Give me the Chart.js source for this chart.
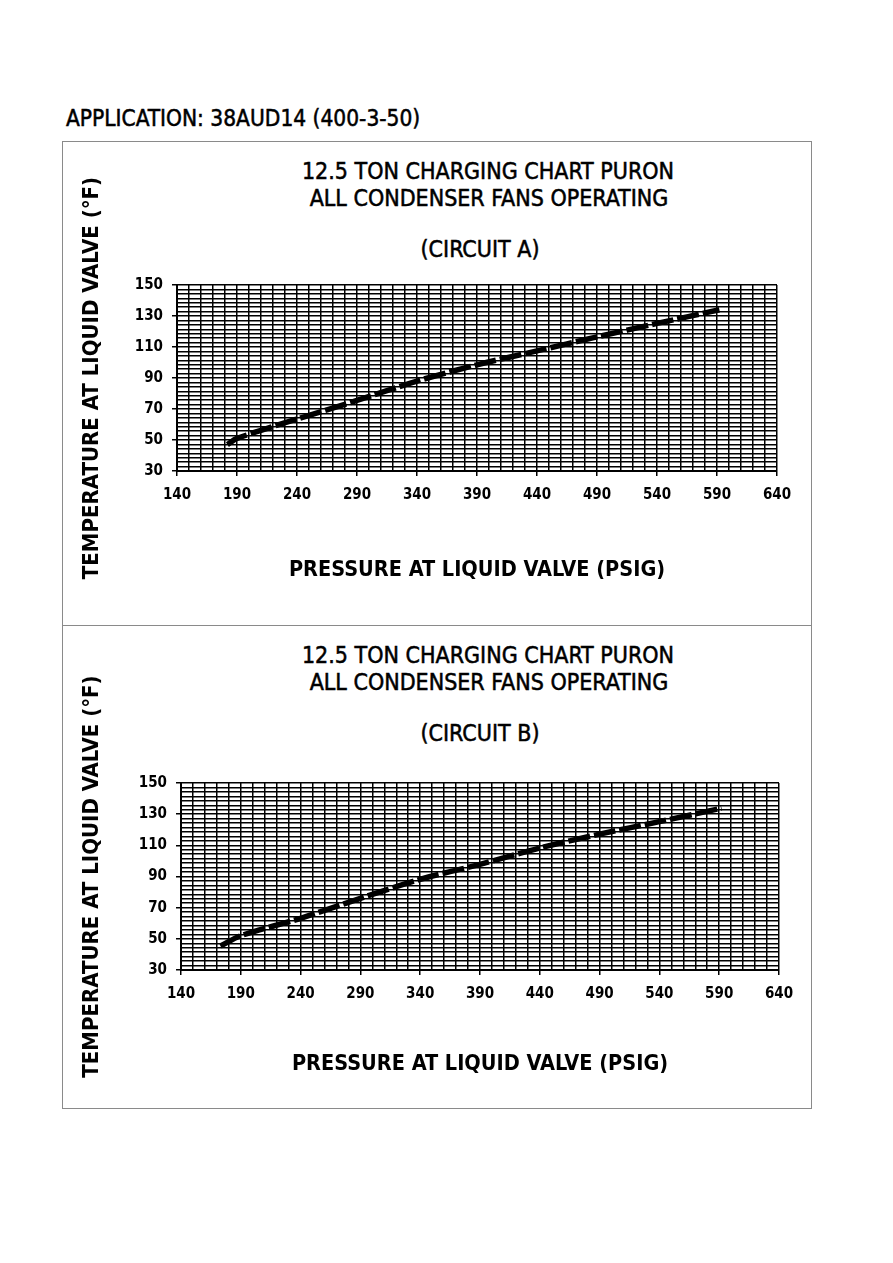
<!DOCTYPE html>
<html>
<head>
<meta charset="utf-8">
<script src="https://cdn.jsdelivr.net/npm/chart.js@4.4.1/dist/chart.umd.min.js"></script>
<style>
  body { margin: 0; background: #fff; width: 893px; height: 1263px; position: relative; overflow: hidden; }
  .txt { position: absolute; font-family: "DejaVu Sans Condensed", "DejaVu Sans", sans-serif; color: #000; white-space: nowrap; line-height: 1; -webkit-text-stroke: 0.5px #000; }
  .ctr { width: 500px; text-align: center; }
  .box { position: absolute; left: 62px; width: 748px; border: 1px solid #8a8a8a; }
  canvas { position: absolute; }
</style>
</head>
<body>
<div class="txt" id="app" style="left:66px; top:107px; font-size:22.5px;">APPLICATION: 38AUD14 (400-3-50)</div>

<div class="box" style="top:141px; height:483px;"></div>
<div class="box" style="top:625px; height:482px;"></div>

<div class="txt ctr" style="left:238px; top:160px; font-size:23px;">12.5 TON CHARGING CHART PURON</div>
<div class="txt ctr" style="left:239px; top:187px; font-size:23px;">ALL CONDENSER FANS OPERATING</div>
<div class="txt ctr" style="left:230px; top:238px; font-size:23px;">(CIRCUIT A)</div>

<div class="txt ctr" style="left:238px; top:644px; font-size:23px;">12.5 TON CHARGING CHART PURON</div>
<div class="txt ctr" style="left:239px; top:671px; font-size:23px;">ALL CONDENSER FANS OPERATING</div>
<div class="txt ctr" style="left:230px; top:722px; font-size:23px;">(CIRCUIT B)</div>

<canvas id="chartA" width="749" height="484" style="left:62px; top:141px;"></canvas>
<canvas id="chartB" width="749" height="483" style="left:62px; top:625px;"></canvas>

<script>
// axes
const xLabels = [140, 190, 240, 290, 340, 390, 440, 490, 540, 590, 640];
const yLabels = [30, 50, 70, 90, 110, 130, 150];

// circuit A  (pression psig / température °F)
const pressA = [182, 190, 240, 290, 340, 390, 440, 490, 540, 592];
const tempA = [47, 51, 63.5, 75.5, 88, 98.5, 107.5, 116.5, 125.2, 134];

// circuit B
const pressB = [173, 190, 240, 290, 340, 390, 440, 490, 540, 592];
const tempB = [45.4, 52, 63.2, 76, 88.2, 97.8, 108.3, 117.2, 125.2, 133.8];

// grille : 5 divisions par 50 psig, 7 divisions par 20 °F
const xGrid = [];
for (let i = 0; i < xLabels.length - 1; i++) {
    for (let k = 0; k < 5; k++) xGrid.push(xLabels[i] + k * 10);
}
xGrid.push(xLabels[xLabels.length - 1]);
const yGrid = [];
for (let i = 0; i < yLabels.length - 1; i++) {
    for (let k = 0; k < 7; k++) yGrid.push(yLabels[i] + k * 20 / 7);
}
yGrid.push(yLabels[yLabels.length - 1]);

const isMajor = (list, v) => list.some(m => Math.abs(m - v) < 0.01);

function makeChart(id, press, temp, box) {
    const fam = "'DejaVu Sans Condensed', 'DejaVu Sans'";
    const tickFont = { family: fam, size: 15, weight: 'bold' };
    return new Chart(document.getElementById(id), {
        type: 'line',
        data: {
            datasets: [{
                data: press.map((p, i) => ({ x: p, y: temp[i] })),
                borderColor: '#000',
                borderWidth: 5.5,
                borderDash: [22, 4],
                pointRadius: 0,
                tension: 0.3,
                fill: false
            }]
        },
        options: {
            responsive: false,
            animation: false,
            layout: { padding: { left: 0, top: box.top, right: box.right, bottom: 0 } },
            plugins: { legend: { display: false }, tooltip: { enabled: false } },
            scales: {
                x: {
                    type: 'linear',
                    min: 140,
                    max: 640,
                    afterBuildTicks: s => { s.ticks = xGrid.map(v => ({ value: v })); },
                    afterFit: s => { s.height = box.xh; },
                    ticks: {
                        autoSkip: false,
                        maxRotation: 0,
                        padding: 10,
                        color: '#000',
                        font: tickFont,
                        callback: v => isMajor(xLabels, v) ? Math.round(v) : ''
                    },
                    grid: {
                        color: '#000',
                        lineWidth: 1.5,
                        tickLength: 5,
                        tickColor: c => isMajor(xLabels, c.tick.value) ? '#000' : 'rgba(0,0,0,0)'
                    },
                    border: { color: '#000', width: 2 },
                    title: {
                        display: true,
                        text: 'PRESSURE AT LIQUID VALVE (PSIG)',
                        color: '#000',
                        font: { family: fam, size: 21.5, weight: 'bold' },
                        padding: { top: 0, bottom: box.xtp }
                    }
                },
                y: {
                    type: 'linear',
                    min: 30,
                    max: 150,
                    afterBuildTicks: s => { s.ticks = yGrid.map(v => ({ value: v })); },
                    afterFit: s => { s.width = box.yw; },
                    ticks: {
                        autoSkip: false,
                        padding: 9,
                        color: '#000',
                        font: tickFont,
                        callback: v => isMajor(yLabels, v) ? Math.round(v) : ''
                    },
                    grid: {
                        color: '#000',
                        lineWidth: 1.5,
                        tickLength: 5,
                        tickColor: c => isMajor(yLabels, c.tick.value) ? '#000' : 'rgba(0,0,0,0)'
                    },
                    border: { color: '#000', width: 2 },
                    title: {
                        display: true,
                        text: 'TEMPERATURE AT LIQUID VALVE (°F)',
                        color: '#000',
                        font: { family: fam, size: 22, weight: 'bold' },
                        padding: { top: 17, bottom: 0 }
                    }
                }
            }
        }
    });
}

makeChart('chartA', pressA, tempA, { top: 144, right: 34, xh: 154, yw: 115, xtp: 42 });
makeChart('chartB', pressB, tempB, { top: 158, right: 32, xh: 138, yw: 119, xtp: 31 });
</script>
</body>
</html>
